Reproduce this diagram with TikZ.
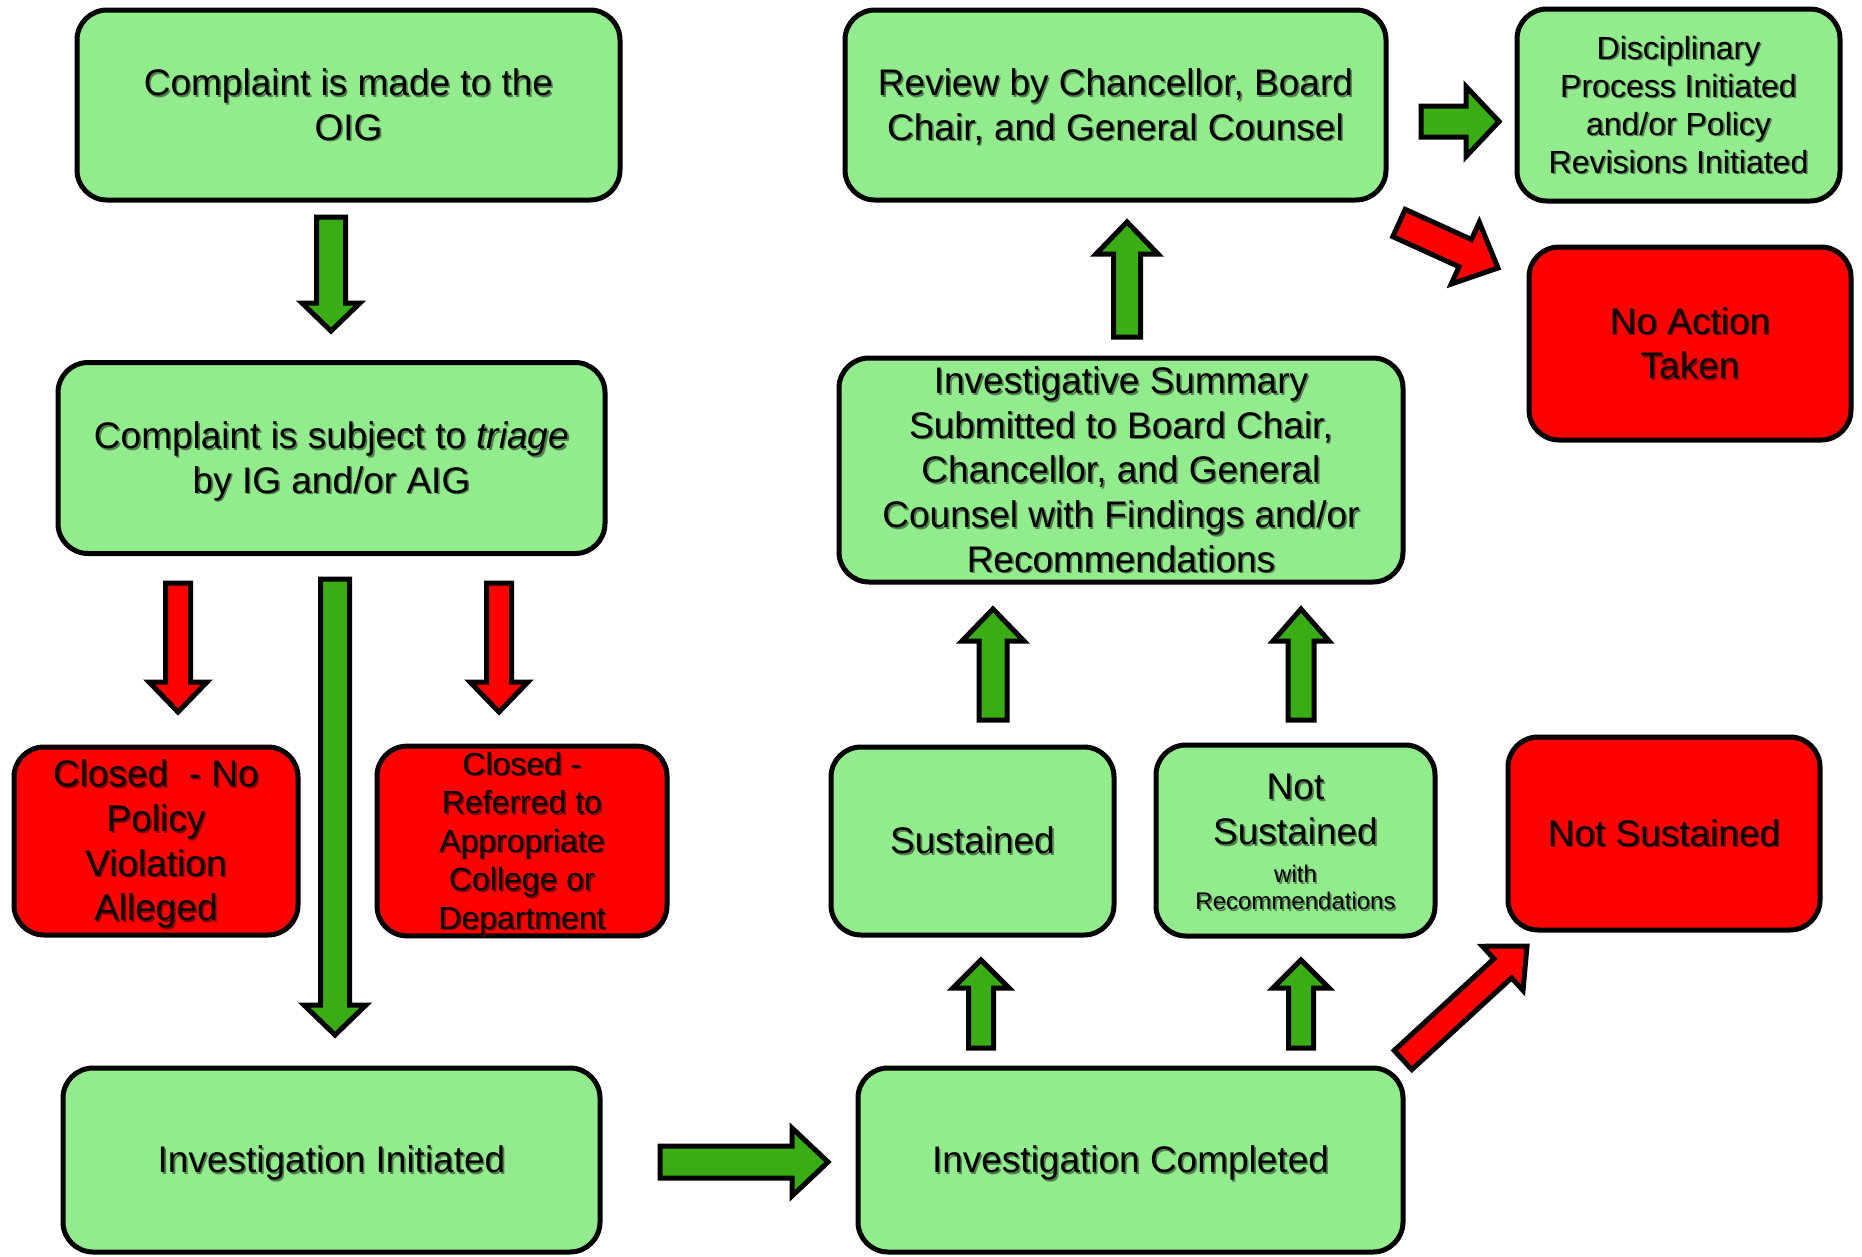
\documentclass[tikz,border=0pt]{standalone}
\usepackage{fontspec}
\setmainfont{Liberation Sans}
\usetikzlibrary{calc}
\definecolor{boxgreen}{RGB}{146,235,140}
\definecolor{boxred}{RGB}{255,0,0}
\definecolor{arrgreen}{RGB}{58,173,22}
\colorlet{shgreen}{boxgreen!55!black}
\colorlet{shred}{boxred!50!black}
% line strut (font ascent/descent) and soft text shadow
\newcommand\lnstrut{\rule[-0.212em]{0pt}{1.117em}}
\newcommand\shcol{shgreen}
\newcommand\sh[1]{\lnstrut\rlap{\hspace{1.6pt}\raisebox{-1.6pt}[0pt][0pt]{\color{\shcol}#1}}#1}
\tikzset{
  box/.style={draw=black, line width=5pt, rounded corners=30pt, align=center, inner sep=0pt, font=\fontsize{37}{44.6}\selectfont},
  gbox/.style={box, fill=boxgreen, execute at begin node={\renewcommand\shcol{shgreen}}},
  rbox/.style={box, fill=boxred, execute at begin node={\renewcommand\shcol{shred}}},
  barr/.style={draw=black, line width=5pt, line join=miter, miter limit=10},
  garr/.style={barr, fill=arrgreen},
  rarr/.style={barr, fill=boxred},
}
% #1 style, #2 start, #3 tip, #4 shaft half width, #5 head half width, #6 head length, #7 neck name
\newcommand\blockarrow[7]{%
  \coordinate (#7) at ($(#3)!#6pt!(#2)$);
  \draw[#1] ($(#2)!#4pt!90:(#3)$) -- ($(#7)!#4pt!-90:(#2)$) -- ($(#7)!#5pt!-90:(#2)$)
    -- (#3) -- ($(#7)!#5pt!90:(#2)$) -- ($(#7)!#4pt!90:(#2)$) -- ($(#2)!#4pt!-90:(#3)$) -- cycle;
}
\begin{document}
\begin{tikzpicture}[x=1pt,y=-1pt]
\useasboundingbox (0,0) rectangle (1862,1256);

% boxes
\node[gbox, minimum width=543pt, minimum height=190pt] (b1) at (348.5,105)
  {\sh{Complaint is made to the}\\\sh{OIG}};
\node[gbox, minimum width=547pt, minimum height=191pt] (b2) at (331.5,458)
  {\sh{Complaint is subject to \textit{triage}}\\\sh{by IG and/or AIG}};
\node[rbox, minimum width=284pt, minimum height=188pt] (b3) at (156,841)
  {\sh{Closed\ \ - No}\\\sh{Policy}\\\sh{Violation}\\\sh{Alleged}};
\node[rbox, minimum width=290pt, minimum height=188pt, font=\fontsize{32}{38.5}\selectfont] (b4) at (522,841)
  {\sh{Closed -}\\\sh{Referred to}\\\sh{Appropriate}\\\sh{College or}\\\sh{Department}};
\node[gbox, minimum width=537pt, minimum height=184pt] (b5) at (331.5,1160)
  {\sh{Investigation Initiated}};
\node[gbox, minimum width=545pt, minimum height=184pt] (b6) at (1130.5,1160)
  {\sh{Investigation Completed}};
\node[gbox, minimum width=283pt, minimum height=188pt] (b7) at (972.5,841)
  {\sh{Sustained}};
\node[gbox, minimum width=279pt, minimum height=191pt] (b8) at (1295.5,840.5)
  {\sh{Not}\\\sh{Sustained}\\[-6.6pt]{\fontsize{24}{27}\selectfont\sh{with}}\\[-17.6pt]{\fontsize{24}{27}\selectfont\sh{Recommendations}}};
\node[rbox, minimum width=312pt, minimum height=193pt] (b9) at (1664,833.5)
  {\sh{Not Sustained}};
\node[gbox, minimum width=564pt, minimum height=224pt] (b10) at (1121,470)
  {\sh{Investigative Summary}\\\sh{Submitted to Board Chair,}\\\sh{Chancellor, and General}\\\sh{Counsel with Findings and/or}\\\sh{Recommendations}};
\node[gbox, minimum width=541pt, minimum height=190pt] (b11) at (1115.5,105)
  {\sh{Review by Chancellor, Board}\\\sh{Chair, and General Counsel}};
\node[gbox, minimum width=323pt, minimum height=192pt, font=\fontsize{32}{38}\selectfont] (b12) at (1678.5,105)
  {\sh{Disciplinary}\\\sh{Process Initiated}\\\sh{and/or Policy}\\\sh{Revisions Initiated}};
\node[rbox, minimum width=322pt, minimum height=193pt] (b13) at (1690,343.5)
  {\sh{No Action}\\\sh{Taken}};

% arrow end points
\coordinate (a1s) at (331,217);   \coordinate (a1e) at (331,331);
\coordinate (a2s) at (178,583);   \coordinate (a2e) at (178,712);
\coordinate (a3s) at (335,579);   \coordinate (a3e) at (335,1035);
\coordinate (a4s) at (499,583);   \coordinate (a4e) at (499,712);
\coordinate (a5s) at (660,1162);  \coordinate (a5e) at (828,1162);
\coordinate (a6s) at (981,1048);  \coordinate (a6e) at (981,960);
\coordinate (a7s) at (1301,1048); \coordinate (a7e) at (1301,960);
\coordinate (a8s) at (1403,1060); \coordinate (a8e) at (1527,946);
\coordinate (a9s) at (993,720);   \coordinate (a9e) at (993,609);
\coordinate (a10s) at (1301,720); \coordinate (a10e) at (1301,609);
\coordinate (a11s) at (1127,337); \coordinate (a11e) at (1127,222);
\coordinate (a12s) at (1421,121.5); \coordinate (a12e) at (1499,121.5);
\coordinate (a13s) at (1399,223); \coordinate (a13e) at (1498,268);

% arrows
\blockarrow{garr}{a1s}{a1e}{14.5}{29}{28}{n1}
\blockarrow{rarr}{a2s}{a2e}{12.5}{29}{30}{n2}
\blockarrow{garr}{a3s}{a3e}{14.5}{31}{30}{n3}
\blockarrow{rarr}{a4s}{a4e}{12.5}{29}{30}{n4}
\blockarrow{garr}{a5s}{a5e}{16}{34}{36}{n5}
\blockarrow{garr}{a6s}{a6e}{12.5}{28}{28}{n6}
\blockarrow{garr}{a7s}{a7e}{12.5}{28}{28}{n7}
\blockarrow{rarr}{a8s}{a8e}{13}{30}{33}{n8}
\blockarrow{garr}{a9s}{a9e}{14}{31}{32}{n9}
\blockarrow{garr}{a10s}{a10e}{13}{28}{32}{n10}
\blockarrow{garr}{a11s}{a11e}{13.5}{31}{32}{n11}
\blockarrow{garr}{a12s}{a12e}{15.5}{35}{33}{n12}
\blockarrow{rarr}{a13s}{a13e}{15}{34}{36}{n13}
\end{tikzpicture}
\end{document}
